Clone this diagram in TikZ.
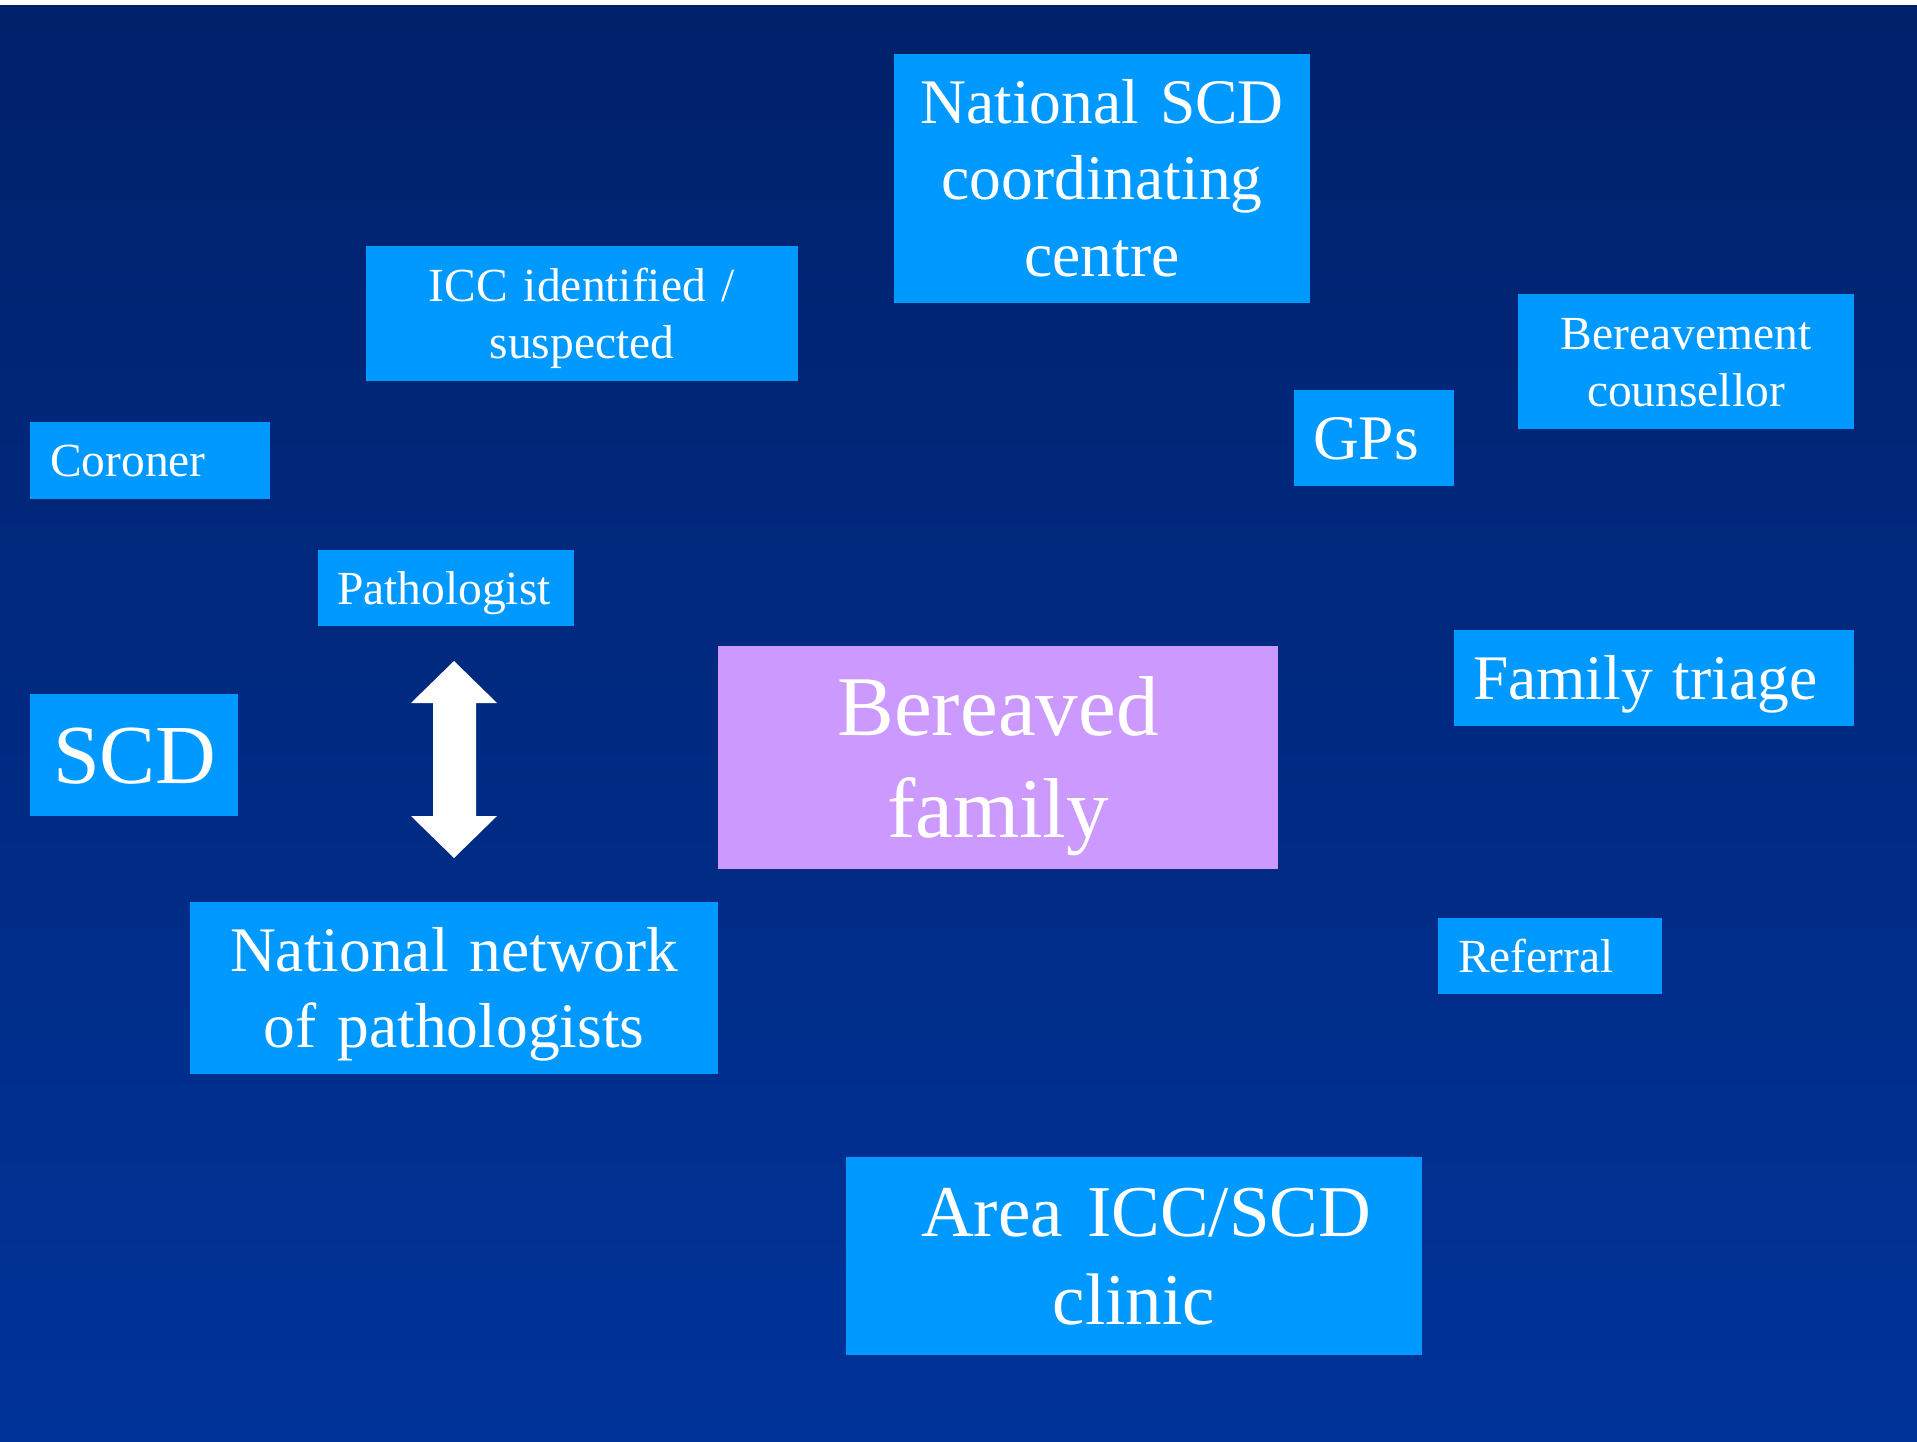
\documentclass[tikz,border=0pt]{standalone}
\usepackage{fontspec}
\setmainfont{Liberation Serif}
\usepackage{tikz}

\definecolor{bgtop}{HTML}{00216A}
\definecolor{bgbot}{HTML}{003399}
\definecolor{boxblue}{HTML}{0099FF}
\definecolor{lilac}{HTML}{CC99FF}

\setlength{\parindent}{0pt}
% strut with the font's ascent and descent
\newcommand{\ps}{\rule[-0.216em]{0pt}{1.107em}}
% one line, flush left, in a box of given width
\newcommand{\lline}[2]{\makebox[#1][l]{\ps #2}}

\begin{document}
\begin{tikzpicture}[x=1pt, y=-1pt,
  box/.style={fill=boxblue, text=white, inner ysep=0pt, inner xsep=20pt},
  cbox/.style={box, align=center},
  smalltext/.style={font=\fontsize{47.5}{57}\selectfont},
  midtext/.style={font=\fontsize{63.5}{76.2}\selectfont},
  clinictext/.style={font=\fontsize{73}{87.6}\selectfont},
  bigtext/.style={font=\fontsize{84}{100.8}\selectfont}]
\useasboundingbox (0,0) rectangle (1917,1442);
\fill[white] (0,0) rectangle (1917,1442);
\shade[top color=bgtop, bottom color=bgbot] (0,6) rectangle (1917,1442);
%
\node[cbox, midtext, text width=376pt, minimum height=249pt] (natcentre) at (1102,178.5)
  {\ps National SCD\\coordinating\\centre\ps};
\node[cbox, smalltext, text width=392pt, minimum height=135pt] (icc) at (582,313.5)
  {\ps ICC identified /\\suspected\ps};
\node[cbox, smalltext, text width=296pt, minimum height=135pt] (counsellor) at (1686,361.5)
  {\ps Bereavement\\counsellor\ps};
\node[box, midtext, inner xsep=19pt, minimum height=96pt] (gps) at (1374,438)
  {\lline{122pt}{GPs}};
\node[box, smalltext, minimum height=77pt] (coroner) at (150,460.5)
  {\lline{200pt}{Coroner}};
\node[box, smalltext, inner xsep=19pt, minimum height=76pt] (patho) at (446,588)
  {\lline{218pt}{Pathologist}};
%
\node[box, bigtext, inner xsep=23pt, minimum height=122pt] (scd) at (134,755)
  {\lline{162pt}{SCD}};
\node[cbox, fill=lilac, font=\fontsize{85}{102}\selectfont, text width=520pt, minimum height=223pt] (family) at (998,757.5)
  {\ps Bereaved\\family\ps};
\node[box, midtext, inner xsep=19pt, minimum height=96pt] (triage) at (1654,678)
  {\lline{362pt}{Family\hspace{4pt} triage}};
\node[box, smalltext, minimum height=76pt] (referral) at (1550,956)
  {\lline{184pt}{Referral}};
%
\node[cbox, midtext, text width=488pt, minimum height=172pt] (network) at (454,988)
  {\ps National network\\of pathologists\ps};
\node[cbox, clinictext, text width=536pt, minimum height=198pt] (clinic) at (1134,1256)
  {\ps\ Area ICC/SCD\\clinic\ps};
%
\fill[white] (454,661) -- (497,703) -- (476,703) -- (476,816) -- (497,816) -- (454,858)
  -- (411,816) -- (433,816) -- (433,703) -- (411,703) -- cycle;
\end{tikzpicture}
\end{document}
